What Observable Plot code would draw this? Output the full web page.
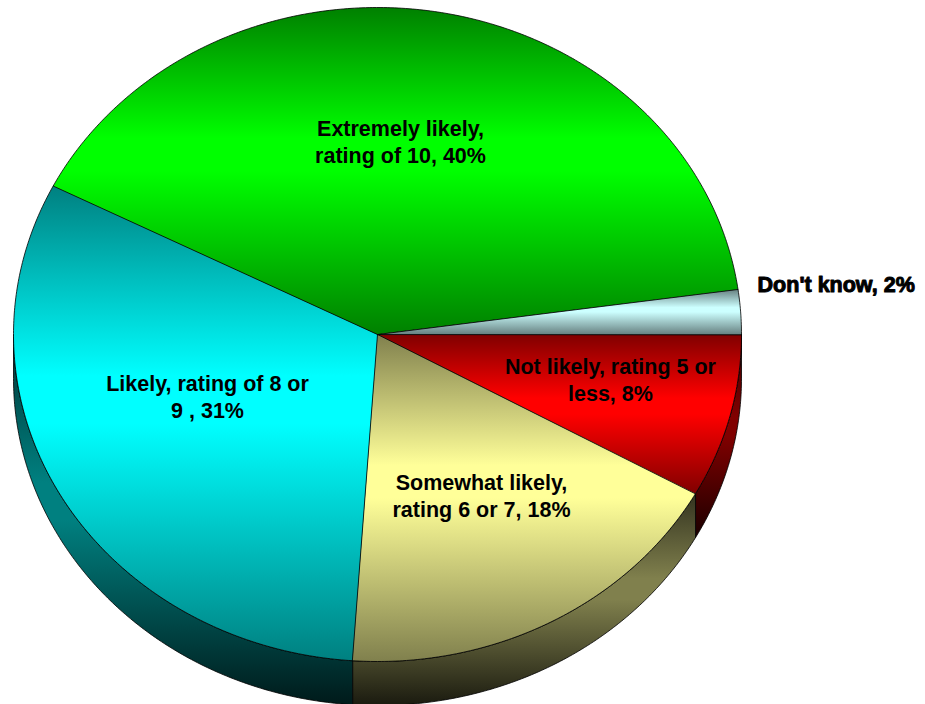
<!DOCTYPE html>
<html><head><meta charset="utf-8">
<script src="https://cdn.jsdelivr.net/npm/d3@7"></script>
<script src="https://cdn.jsdelivr.net/npm/@observablehq/plot@0.6"></script>
<style>html,body{margin:0;padding:0;background:#fff}svg{display:block}</style>
</head><body><div id="chart"></div>
<script>
const categories = ["Not likely","Somewhat likely","Likely","Extremely likely","Don't know"];
const shares = [8.1, 18, 31.4, 40.3, 2.2];
const labels = ["Not likely, rating 5 or\nless, 8%","Somewhat likely,\nrating 6 or 7, 18%","Likely, rating of 8 or\n9 , 31%","Extremely likely,\nrating of 10, 40%","Don't know, 2%"];
const colors = ["255,0,0","255,255,153","0,255,255","0,255,0","204,255,255"];
const labelRadius = [0.654,0.568,0.503,0.595,1.055];
const labelAngle = [11.9,59.8,158.2,276.1,351.8];

const W = 925, H = 704, cx = 377, cy = 334, rx = 364, ry = 327, depth = 44;
const project = d3.geoTransform({point(x, y){ this.stream.point(cx + rx*x, cy + ry*y); }});
const dz = depth/ry;
const total = d3.sum(shares);
let acc = 0;
const slices = shares.map((v,i)=>{ const a0 = acc/total*2*Math.PI; acc += v; const a1 = acc/total*2*Math.PI;
  const t = labelAngle[i]*Math.PI/180;
  return {i, a0, a1, name:categories[i], label:labels[i], lx:labelRadius[i]*Math.cos(t), ly:labelRadius[i]*Math.sin(t)}; });
const arcPts = (a0,a1,dy=0)=>{ const n=Math.max(2,Math.ceil((a1-a0)/0.01)); return d3.range(n+1).map(k=>{const a=a0+(a1-a0)*k/n; return [Math.cos(a),Math.sin(a)+dy];}); };
const poly = pts => ({type:"Polygon",coordinates:[[...pts,pts[0]]]});
const tops = slices.map(s=>({...s,geom:poly([[0,0],...arcPts(s.a0,s.a1)])}));
const walls = slices.filter(s=>s.a0<Math.PI).map(s=>{ const b=Math.min(s.a1,Math.PI);
  return {...s,geom:poly([...arcPts(s.a0,b),...arcPts(s.a0,b,dz).reverse()])}; });

const defs = () => {
  const ns="http://www.w3.org/2000/svg";
  const d=document.createElementNS(ns,"defs");
  const grad=(id,rgb,stops)=>{const g=document.createElementNS(ns,"linearGradient");g.setAttribute("id",id);g.setAttribute("x1",0);g.setAttribute("y1",0);g.setAttribute("x2",0);g.setAttribute("y2",1);
    stops.forEach(([o,f])=>{const s=document.createElementNS(ns,"stop");s.setAttribute("offset",o);s.setAttribute("stop-color",`rgb(${rgb.split(",").map(c=>Math.round(c*f)).join(",")})`);g.appendChild(s);});d.appendChild(g);};
  colors.forEach((c,i)=>{grad(`top${i}`,c,[[0,.5],[.4,1],[.5,1],[1,.5]]);grad(`wall${i}`,c,[[0,.2],[.4,.5],[.5,.5],[1,.1]]);});
  return d;
};
const edge = {stroke:"#000",strokeWidth:1,strokeOpacity:0.8};
const font = {fontFamily:"Liberation Sans",fontWeight:"bold",fontSize:21.5,fill:"#000"};
const chart = Plot.plot({
  width:W,height:H,margin:0,projection:project,
  marks:[
    defs,
    ...walls.map(w=>Plot.geo([w.geom],{fill:`url(#wall${w.i})`,...edge})),
    ...tops.map(t=>Plot.geo([t.geom],{fill:`url(#top${t.i})`,...edge})),
    Plot.text(slices.filter(s=>s.i!==4),{x:"lx",y:"ly",text:"label",...font,lineHeight:1.26,textAnchor:"middle"}),
    Plot.text(slices.filter(s=>s.i===4),{x:"lx",y:"ly",text:"label",...font,stroke:"#000",strokeWidth:1,textAnchor:"start"})
  ]
});
document.getElementById("chart").appendChild(chart);
</script></body></html>
